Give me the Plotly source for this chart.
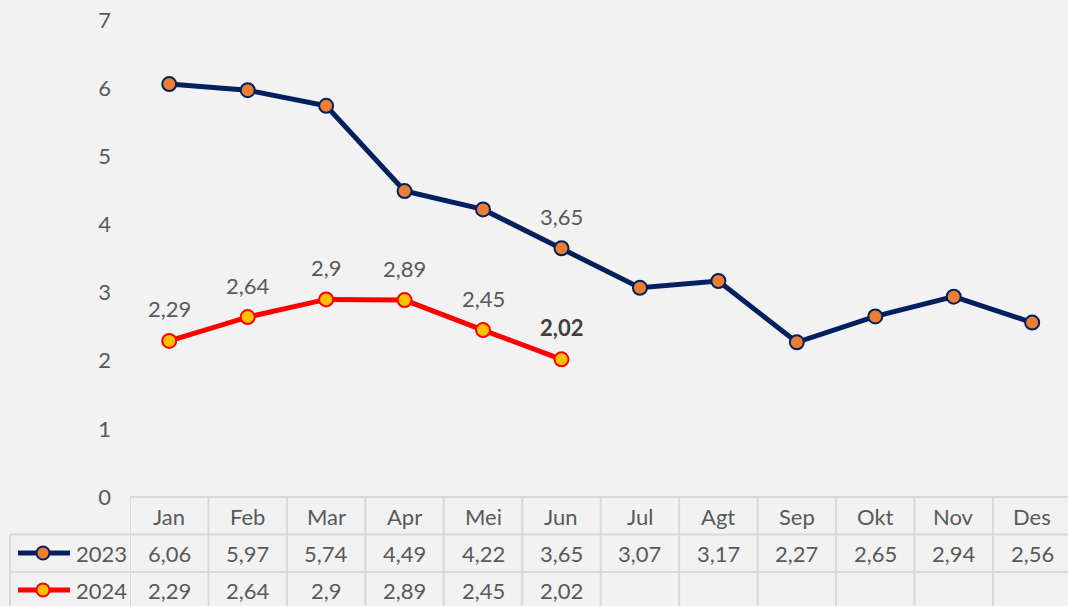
import plotly.graph_objects as go

months = ["Jan", "Feb", "Mar", "Apr", "Mei", "Jun", "Jul", "Agt", "Sep", "Okt", "Nov", "Des"]
v2023 = [6.06, 5.97, 5.74, 4.49, 4.22, 3.65, 3.07, 3.17, 2.27, 2.65, 2.94, 2.56]
v2024 = [2.29, 2.64, 2.90, 2.89, 2.45, 2.02]
y_ticks = [0, 1, 2, 3, 4, 5, 6, 7]

FONT = "Lato"
FS = 22
TXT = "#595959"
GRID = "#D9D9D9"
NAVY = "#002060"
RED = "#FF0000"
W, H = 1068, 606
L = 130
CW = 78.45  # column width in px
XMAX = -0.5 + (W - L) / CW


def fmt(v):
    s = ("%.2f" % v).rstrip("0").rstrip(".")
    return s.replace(".", ",")


def py(p):
    return 1 - p / H


def px(p):
    return (p - L) / (W - L)


x = list(range(len(months)))
fig = go.Figure()
fig.add_trace(go.Scatter(
    x=x, y=v2023, mode="lines+markers", name="2023",
    line=dict(color=NAVY, width=5),
    marker=dict(size=14, color="#ED7D31", line=dict(color=NAVY, width=2)),
    cliponaxis=False))
fig.add_trace(go.Scatter(
    x=x[:len(v2024)], y=v2024, mode="lines+markers", name="2024",
    line=dict(color=RED, width=5),
    marker=dict(size=14, color="#FFC000", line=dict(color=RED, width=2)),
    cliponaxis=False))

ann = []
# data labels
ann.append(dict(x=5, y=v2023[5], xref="x", yref="y", text=fmt(v2023[5]), showarrow=False,
                yshift=32, yanchor="middle", font=dict(family=FONT, size=FS, color=TXT)))
for i, v in enumerate(v2024):
    last = i == len(v2024) - 1
    ann.append(dict(x=i, y=v, xref="x", yref="y",
                    text=("<b>%s</b>" % fmt(v)) if last else fmt(v), showarrow=False,
                    yshift=32, yanchor="middle",
                    font=dict(family=FONT, size=FS, color="#404040" if last else TXT)))

# table
shapes = []
top, r1, r2, bot = 497, 534.5, 572, 620
shapes.append(dict(type="line", xref="x", yref="paper", x0=-0.5, x1=12, y0=py(top), y1=py(top),
                   line=dict(color=GRID, width=2)))
for yy in (r1, r2):
    shapes.append(dict(type="line", xref="paper", yref="paper", x0=px(10), x1=1.01, y0=py(yy), y1=py(yy),
                       line=dict(color=GRID, width=2)))
shapes.append(dict(type="line", xref="paper", yref="paper", x0=px(10), x1=px(10), y0=py(r1), y1=py(bot),
                   line=dict(color=GRID, width=2)))
for i in range(len(months)):
    shapes.append(dict(type="line", xref="x", yref="paper", x0=i - 0.5, x1=i - 0.5, y0=py(top), y1=py(bot),
                       line=dict(color=GRID, width=2)))

for i, m in enumerate(months):
    ann.append(dict(x=i, y=py(516), xref="x", yref="paper", text=m, showarrow=False,
                    yanchor="middle", font=dict(family=FONT, size=FS, color=TXT)))
for i, v in enumerate(v2023):
    ann.append(dict(x=i, y=py(553), xref="x", yref="paper", text=fmt(v), showarrow=False,
                    yanchor="middle", font=dict(family=FONT, size=FS, color=TXT)))
for i, v in enumerate(v2024):
    ann.append(dict(x=i, y=py(590), xref="x", yref="paper", text=fmt(v), showarrow=False,
                    yanchor="middle", font=dict(family=FONT, size=FS, color=TXT)))

# legend keys in the table
for yy, name, lc, fc in ((553, "2023", NAVY, "#ED7D31"), (590, "2024", RED, "#FFC000")):
    shapes.append(dict(type="line", xref="paper", yref="paper", x0=px(18), x1=px(70), y0=py(yy), y1=py(yy),
                       line=dict(color=lc, width=5)))
    shapes.append(dict(type="circle", xref="paper", yref="paper", x0=px(36.5), x1=px(49.5),
                       y0=py(yy + 6.5), y1=py(yy - 6.5), fillcolor=fc, line=dict(color=lc, width=2)))
    ann.append(dict(x=px(74), y=py(yy), xref="paper", yref="paper", text=name, showarrow=False,
                    xanchor="left", yanchor="middle", font=dict(family=FONT, size=FS, color=TXT)))

fig.update_layout(
    width=W, height=H,
    margin=dict(l=L, r=0, t=0, b=0),
    paper_bgcolor="#F2F2F2", plot_bgcolor="#F2F2F2",
    showlegend=False,
    shapes=shapes, annotations=ann,
    xaxis=dict(range=[-0.5, XMAX], showgrid=False, zeroline=False, showticklabels=False,
               showline=False, fixedrange=True),
    yaxis=dict(range=[-(H - 497) / 68.14, 7 + 20 / 68.14], tickvals=y_ticks,
               ticktext=[str(t) for t in y_ticks], showgrid=False, zeroline=False,
               showline=False, ticklabelstandoff=18,
               tickfont=dict(family=FONT, size=FS, color=TXT)),
)

fig.write_html("out.html", config={"displayModeBar": False},
               post_script="document.body.style.margin='0';document.body.style.overflow='hidden';")
